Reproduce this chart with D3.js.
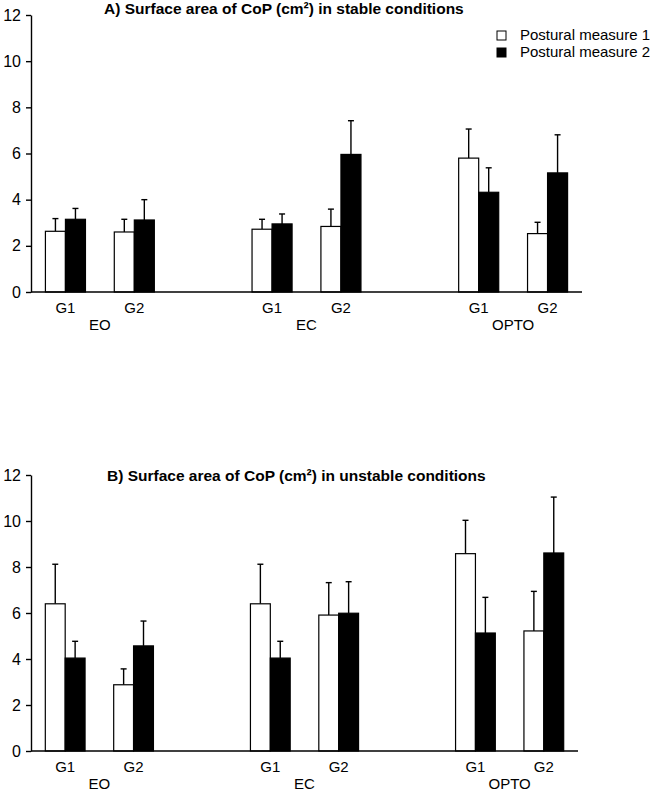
<!DOCTYPE html>
<html>
<head>
<meta charset="utf-8">
<script src="https://d3js.org/d3.v7.min.js"></script>
<style>
  body { margin: 0; background: #fff; }
  svg text { font-family: "Liberation Sans", Arial, sans-serif; fill: #000; }
  .title { font-weight: bold; font-size: 15.5px; }
  .axis path, .axis line { stroke: #000; stroke-width: 1.4px; }
  .axis text { font-size: 16px; }
  .cat { font-size: 15px; }
</style>
</head>
<body>
<div id="chart"></div>
<script>
// categories
const conditions = ["EO", "EC", "OPTO"];
const groups = ["G1", "G2"];
const measures = ["Postural measure 1", "Postural measure 2"];
const yTicks = [0, 2, 4, 6, 8, 10, 12];

// values in order EO-G1, EO-G2, EC-G1, EC-G2, OPTO-G1, OPTO-G2
const stableM1 = [2.63, 2.60, 2.72, 2.84, 5.80, 2.53];
const stableM1Err = [0.55, 0.55, 0.43, 0.75, 1.26, 0.49];
const stableM2 = [3.15, 3.12, 2.95, 5.96, 4.32, 5.16];
const stableM2Err = [0.47, 0.88, 0.43, 1.46, 1.06, 1.65];

const unstableM1 = [6.40, 2.88, 6.40, 5.91, 8.58, 5.22];
const unstableM1Err = [1.72, 0.69, 1.72, 1.41, 1.45, 1.72];
const unstableM2 = [4.04, 4.57, 4.04, 5.99, 5.13, 8.61];
const unstableM2Err = [0.73, 1.08, 0.73, 1.37, 1.55, 2.43];

const svg = d3.select("#chart").append("svg")
    .attr("width", 655)
    .attr("height", 792);

function panel(opt) {
  const g = svg.append("g");
  const y = d3.scaleLinear().domain([0, 12]).range([opt.bottom, opt.top]);

  // 8 slots : 2 per condition + a blank slot between conditions
  const x0 = d3.scaleBand().domain(conditions)
      .range([opt.left, opt.right]).paddingInner(1 / 3).paddingOuter(0);
  const x1 = d3.scaleBand().domain(groups).range([0, x0.bandwidth()]);
  const x2 = d3.scaleBand().domain([0, 1]).range([0, x1.bandwidth()])
      .paddingInner(0).paddingOuter(0.72);

  const rows = [];
  conditions.forEach((c, ci) => groups.forEach((gr, gi) => {
    const k = ci * 2 + gi;
    opt.series.forEach((s, si) => rows.push({
      cond: c, grp: gr, m: si, v: s.vals[k], e: s.err[k]
    }));
  }));

  const bx = d => x0(d.cond) + x1(d.grp) + x2(d.m);

  // error bars first, bars over them
  const eb = g.append("g").attr("stroke", "#000").attr("stroke-width", 1.4);
  eb.selectAll("line.v").data(rows).enter().append("line")
    .attr("x1", d => bx(d) + x2.bandwidth() / 2)
    .attr("x2", d => bx(d) + x2.bandwidth() / 2)
    .attr("y1", d => y(d.v))
    .attr("y2", d => y(d.v + d.e));
  eb.selectAll("line.c").data(rows).enter().append("line")
    .attr("x1", d => bx(d) + x2.bandwidth() / 2 - 3)
    .attr("x2", d => bx(d) + x2.bandwidth() / 2 + 3)
    .attr("y1", d => y(d.v + d.e))
    .attr("y2", d => y(d.v + d.e));

  g.append("g").selectAll("rect").data(rows).enter().append("rect")
    .attr("x", bx)
    .attr("y", d => y(d.v))
    .attr("width", x2.bandwidth())
    .attr("height", d => y(0) - y(d.v))
    .attr("fill", d => d.m === 0 ? "#fff" : "#000")
    .attr("stroke", "#000")
    .attr("stroke-width", 1.2);

  // axes
  g.append("g").attr("class", "axis")
    .attr("transform", `translate(${opt.left},0)`)
    .call(d3.axisLeft(y).tickValues(yTicks).tickSize(5).tickPadding(5).tickSizeOuter(0));

  g.append("line")
    .attr("x1", opt.left).attr("x2", opt.right)
    .attr("y1", y(0)).attr("y2", y(0))
    .attr("stroke", "#000").attr("stroke-width", 1.6);

  // category labels
  conditions.forEach(c => {
    groups.forEach(gr => {
      g.append("text").attr("class", "cat")
        .attr("x", x0(c) + x1(gr) + x1.bandwidth() / 2)
        .attr("y", opt.bottom + 21)
        .attr("text-anchor", "middle")
        .text(gr);
    });
    g.append("text").attr("class", "cat")
      .attr("x", x0(c) + x0.bandwidth() / 2)
      .attr("y", opt.bottom + 38)
      .attr("text-anchor", "middle")
      .text(c);
  });

  g.append("text").attr("class", "title")
    .attr("x", opt.titleX).attr("y", opt.titleY)
    .text(opt.title);
}

panel({
  left: 31, right: 582, top: 15, bottom: 292,
  titleX: 104, titleY: 14,
  title: "A) Surface area of CoP (cm²) in stable conditions",
  series: [{ vals: stableM1, err: stableM1Err }, { vals: stableM2, err: stableM2Err }]
});

panel({
  left: 31, right: 578, top: 475, bottom: 751,
  titleX: 107, titleY: 481,
  title: "B) Surface area of CoP (cm²) in unstable conditions",
  series: [{ vals: unstableM1, err: unstableM1Err }, { vals: unstableM2, err: unstableM2Err }]
});

// legend
const leg = svg.append("g").attr("transform", "translate(497,27)");
leg.selectAll("rect").data(measures).enter().append("rect")
  .attr("x", 0)
  .attr("y", (d, i) => 4 + i * 17)
  .attr("width", 9).attr("height", 9)
  .attr("fill", (d, i) => i === 0 ? "#fff" : "#000")
  .attr("stroke", "#000").attr("stroke-width", 1);
leg.selectAll("text").data(measures).enter().append("text")
  .attr("x", 23)
  .attr("y", (d, i) => 13 + i * 17)
  .style("font-size", "15px")
  .text(d => d);
</script>
</body>
</html>
